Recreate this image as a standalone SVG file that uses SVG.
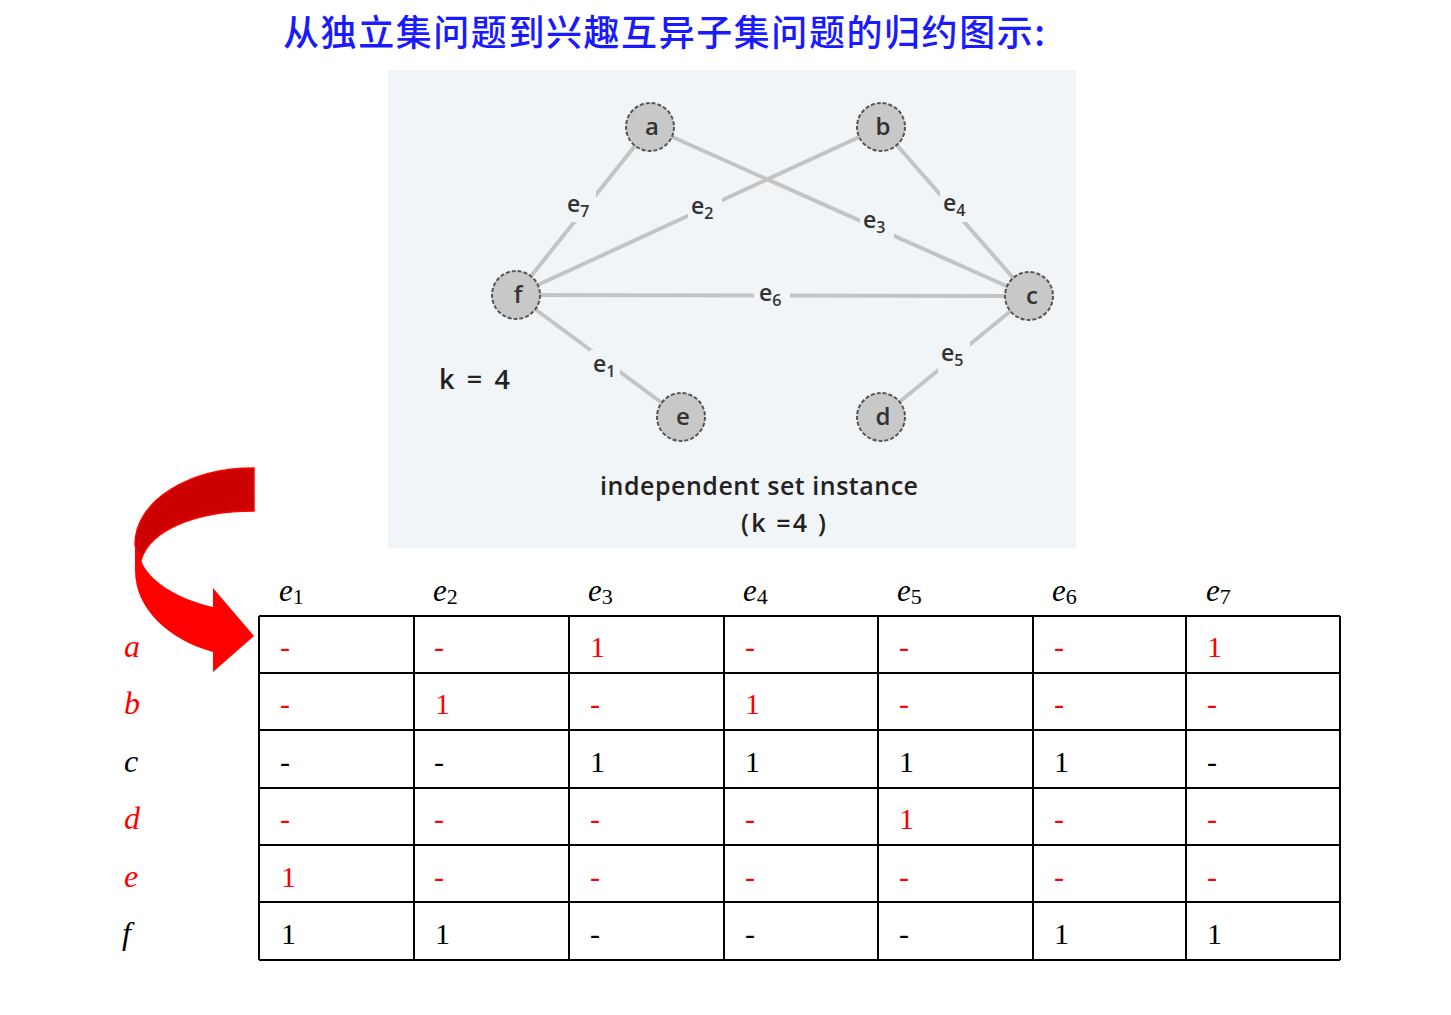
<svg xmlns="http://www.w3.org/2000/svg" width="1451" height="1015" viewBox="0 0 1451 1015">
<style>
.title{font-family:"Noto Sans CJK SC","Noto Sans",sans-serif;font-size:36px;fill:#1a1aff;font-weight:500}
.edge{stroke:#c4c4c4;stroke-width:4;fill:none}
.node circle{fill:#c8c8c8;stroke:#555;stroke-width:2;stroke-dasharray:4 2}
.nl{font-family:"Open Sans","Liberation Sans",sans-serif;font-size:24px;font-weight:600;fill:#333;text-anchor:middle}
.el{font-family:"Open Sans","Liberation Sans",sans-serif;font-size:23px;font-weight:600;fill:#333}
.el tspan.s{font-size:16px}
.gt{font-family:"Open Sans","Liberation Sans",sans-serif;font-size:25px;font-weight:600;fill:#222}
.grid line{stroke:#000;stroke-width:2}
.hd{font-family:"Liberation Serif",serif;font-size:31px;fill:#000}
.hd tspan.s{font-size:22px;font-style:normal}
.rl{font-family:"Liberation Serif",serif;font-size:32px;font-style:italic}
.cv{font-family:"Liberation Serif",serif;font-size:30px}
.r{fill:#ff0000}
.k{fill:#000}
</style>
<text class="title" x="283" y="46" textLength="762" lengthAdjust="spacing">从独立集问题到兴趣互异子集问题的归约图示:</text>
<rect x="388" y="70" width="688" height="478" fill="#f2f5f8"/>
<g id="connectors">
<line class="edge" x1="650" y1="127" x2="516" y2="295"/>
<line class="edge" x1="881" y1="127" x2="516" y2="295"/>
<line class="edge" x1="650" y1="127" x2="1029" y2="296"/>
<line class="edge" x1="881" y1="127" x2="1029" y2="296"/>
<line class="edge" x1="516" y1="295" x2="1029" y2="296"/>
<line class="edge" x1="516" y1="295" x2="681" y2="417"/>
<line class="edge" x1="1029" y1="296" x2="881" y2="417"/>
<g fill="#f2f5f8">
<rect x="564" y="190" width="32" height="32"/>
<rect x="688" y="192" width="34" height="32"/>
<rect x="860" y="206" width="34" height="32"/>
<rect x="940" y="190" width="32" height="32"/>
<rect x="754" y="280" width="36" height="32"/>
<rect x="590" y="350" width="30" height="32"/>
<rect x="938" y="340" width="32" height="32"/>
</g>
<text class="el" x="567" y="212">e<tspan class="s" dy="5">7</tspan></text>
<text class="el" x="691" y="214">e<tspan class="s" dy="5">2</tspan></text>
<text class="el" x="863" y="228">e<tspan class="s" dy="5">3</tspan></text>
<text class="el" x="943" y="211">e<tspan class="s" dy="5">4</tspan></text>
<text class="el" x="759" y="301">e<tspan class="s" dy="5">6</tspan></text>
<text class="el" x="593" y="372">e<tspan class="s" dy="5">1</tspan></text>
<text class="el" x="941" y="361">e<tspan class="s" dy="5">5</tspan></text>
</g>
<g id="node-a" class="node"><circle cx="650" cy="127" r="24"/><text class="nl" x="652" y="135">a</text></g>
<g id="node-b" class="node"><circle cx="881" cy="127" r="24"/><text class="nl" x="883" y="135">b</text></g>
<g id="node-c" class="node"><circle cx="1029" cy="296" r="24"/><text class="nl" x="1032" y="304">c</text></g>
<g id="node-f" class="node"><circle cx="516" cy="295" r="24"/><text class="nl" x="518" y="303">f</text></g>
<g id="node-e" class="node"><circle cx="681" cy="417" r="24"/><text class="nl" x="683" y="425">e</text></g>
<g id="node-d" class="node"><circle cx="881" cy="417" r="24"/><text class="nl" x="883" y="425">d</text></g>
<text class="gt" x="439" y="389" style="font-size:27px" textLength="71" lengthAdjust="spacing">k = 4</text>
<text class="gt" x="600" y="495" textLength="318" lengthAdjust="spacing">independent set instance</text>
<text class="gt" x="741" y="532" textLength="85" lengthAdjust="spacing">(k =4 )</text>
<g id="arrow">
<path d="M254,468 C190,468 135,500 135,545 L135,570 C135,610 170,640 213,652 L213,672 L254,636 L213,588 L213,607 C175,598 148,580 141,560 C150,530 195,511 254,511 Z" fill="#ff0000"/>
<path d="M254,468 C190,468 135,500 135,545 L141,560 C150,530 195,511 254,511 Z" fill="#cc0000" stroke="#ff0000" stroke-width="1.5"/>
</g>
<g id="table">
<g class="grid">
<line x1="259" y1="616" x2="1340" y2="616"/>
<line x1="259" y1="673" x2="1340" y2="673"/>
<line x1="259" y1="730" x2="1340" y2="730"/>
<line x1="259" y1="788" x2="1340" y2="788"/>
<line x1="259" y1="845" x2="1340" y2="845"/>
<line x1="259" y1="902" x2="1340" y2="902"/>
<line x1="259" y1="960" x2="1340" y2="960"/>
<line x1="259" y1="616" x2="259" y2="960"/>
<line x1="414" y1="616" x2="414" y2="960"/>
<line x1="569" y1="616" x2="569" y2="960"/>
<line x1="724" y1="616" x2="724" y2="960"/>
<line x1="878" y1="616" x2="878" y2="960"/>
<line x1="1033" y1="616" x2="1033" y2="960"/>
<line x1="1186" y1="616" x2="1186" y2="960"/>
<line x1="1340" y1="616" x2="1340" y2="960"/>
</g>
<g class="hd">
<text x="279" y="601" font-style="italic">e<tspan class="s" dy="3">1</tspan></text>
<text x="433" y="601" font-style="italic">e<tspan class="s" dy="3">2</tspan></text>
<text x="588" y="601" font-style="italic">e<tspan class="s" dy="3">3</tspan></text>
<text x="743" y="601" font-style="italic">e<tspan class="s" dy="3">4</tspan></text>
<text x="897" y="601" font-style="italic">e<tspan class="s" dy="3">5</tspan></text>
<text x="1052" y="601" font-style="italic">e<tspan class="s" dy="3">6</tspan></text>
<text x="1206" y="601" font-style="italic">e<tspan class="s" dy="3">7</tspan></text>
</g>
<text class="rl r" x="124" y="657">a</text>
<text class="rl r" x="124" y="714">b</text>
<text class="rl k" x="124" y="772">c</text>
<text class="rl r" x="124" y="829">d</text>
<text class="rl r" x="124" y="887">e</text>
<text class="rl k" x="122" y="944">f</text>
<g class="cv r">
<text x="280" y="657">-</text><text x="434" y="657">-</text><text x="590" y="657">1</text><text x="745" y="657">-</text><text x="899" y="657">-</text><text x="1054" y="657">-</text><text x="1207" y="657">1</text>
<text x="280" y="714">-</text><text x="435" y="714">1</text><text x="590" y="714">-</text><text x="745" y="714">1</text><text x="899" y="714">-</text><text x="1054" y="714">-</text><text x="1207" y="714">-</text>
<text x="280" y="829">-</text><text x="434" y="829">-</text><text x="590" y="829">-</text><text x="745" y="829">-</text><text x="899" y="829">1</text><text x="1054" y="829">-</text><text x="1207" y="829">-</text>
<text x="281" y="887">1</text><text x="434" y="887">-</text><text x="590" y="887">-</text><text x="745" y="887">-</text><text x="899" y="887">-</text><text x="1054" y="887">-</text><text x="1207" y="887">-</text>
</g>
<g class="cv k">
<text x="280" y="772">-</text><text x="434" y="772">-</text><text x="590" y="772">1</text><text x="745" y="772">1</text><text x="899" y="772">1</text><text x="1054" y="772">1</text><text x="1207" y="772">-</text>
<text x="281" y="944">1</text><text x="435" y="944">1</text><text x="590" y="944">-</text><text x="745" y="944">-</text><text x="899" y="944">-</text><text x="1054" y="944">1</text><text x="1207" y="944">1</text>
</g>
</g>
</svg>
